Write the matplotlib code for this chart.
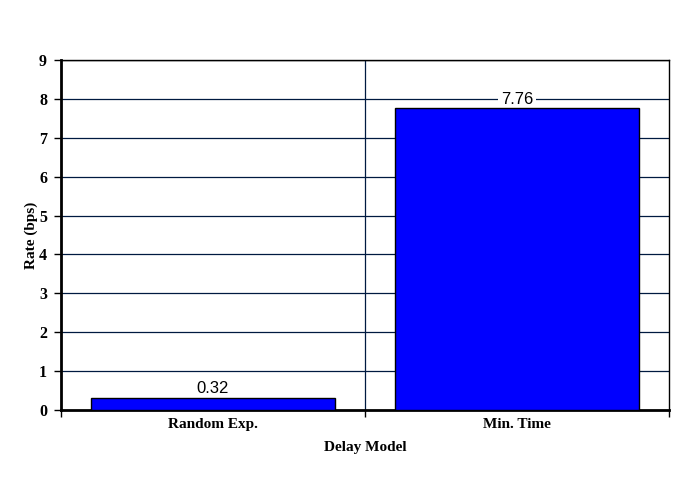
import matplotlib
matplotlib.use("Agg")
import matplotlib.pyplot as plt

categories = ["Random Exp.", "Min. Time"]
values = [0.32, 7.76]
value_labels = ["0.32", "7.76"]
yticks = list(range(0, 10))

fig = plt.figure(figsize=(6.8, 5.0), dpi=100)
ax = fig.add_axes([61/680, 90/500, (669-61)/680, (410-60)/500])

x = list(range(len(categories)))
ax.bar(x, values, width=0.8, color="#0000ff", edgecolor="black", linewidth=1.0, zorder=3)

ax.set_xlim(-0.5, len(categories) - 0.5)
ax.set_ylim(0, 9)
ax.set_yticks(yticks)
ax.set_yticklabels([str(t) for t in yticks])

serif = ["Liberation Serif", "DejaVu Serif"]
sans = ["Liberation Sans", "DejaVu Sans"]

for t in yticks[1:-1]:
    ax.axhline(t, color="#001a40", linewidth=0.9, zorder=1)
ax.axhline(9, color="black", linewidth=1.0, zorder=1)
ax.axvline(0.5, color="#001a40", linewidth=0.9, zorder=1)

ax.set_xticks([-0.5, 0.5, 1.5], minor=False)
ax.set_xticklabels(["", "", ""])
ax.set_xticks(x, minor=True)
ax.set_xticklabels(categories, minor=True, fontfamily=serif, fontweight="bold", fontsize=11)
ax.tick_params(axis="x", which="minor", length=0, pad=6)
ax.tick_params(axis="x", which="major", length=5, width=1, direction="out")
ax.tick_params(axis="y", length=5, width=1, direction="out", pad=5)
for lab in ax.get_yticklabels():
    lab.set_fontfamily(serif)
    lab.set_fontweight("bold")
    lab.set_fontsize(11.5)

for s in ["left", "bottom"]:
    ax.spines[s].set_linewidth(2.0)
    ax.spines[s].set_color("black")
ax.spines["top"].set_linewidth(1.0)
ax.spines["right"].set_linewidth(1.0)
ax.spines["right"].set_color("black")

for xi, v, lab in zip(x, values, value_labels):
    ax.annotate(lab, (xi, v), xytext=(0, 9), textcoords="offset pixels",
                ha="center", va="center", fontsize=12, fontfamily=sans, zorder=2,
                bbox=dict(boxstyle="square,pad=0.15", facecolor="white", edgecolor="none"))

ax.set_ylabel("Rate (bps)", fontfamily=serif, fontweight="bold", fontsize=11)
ax.set_xlabel("Delay Model", fontfamily=serif, fontweight="bold", fontsize=11)
ax.yaxis.set_label_coords(-0.038, 0.5)
ax.xaxis.set_label_coords(0.5, -31/350)

fig.savefig("out.png", dpi=100, facecolor="white")
